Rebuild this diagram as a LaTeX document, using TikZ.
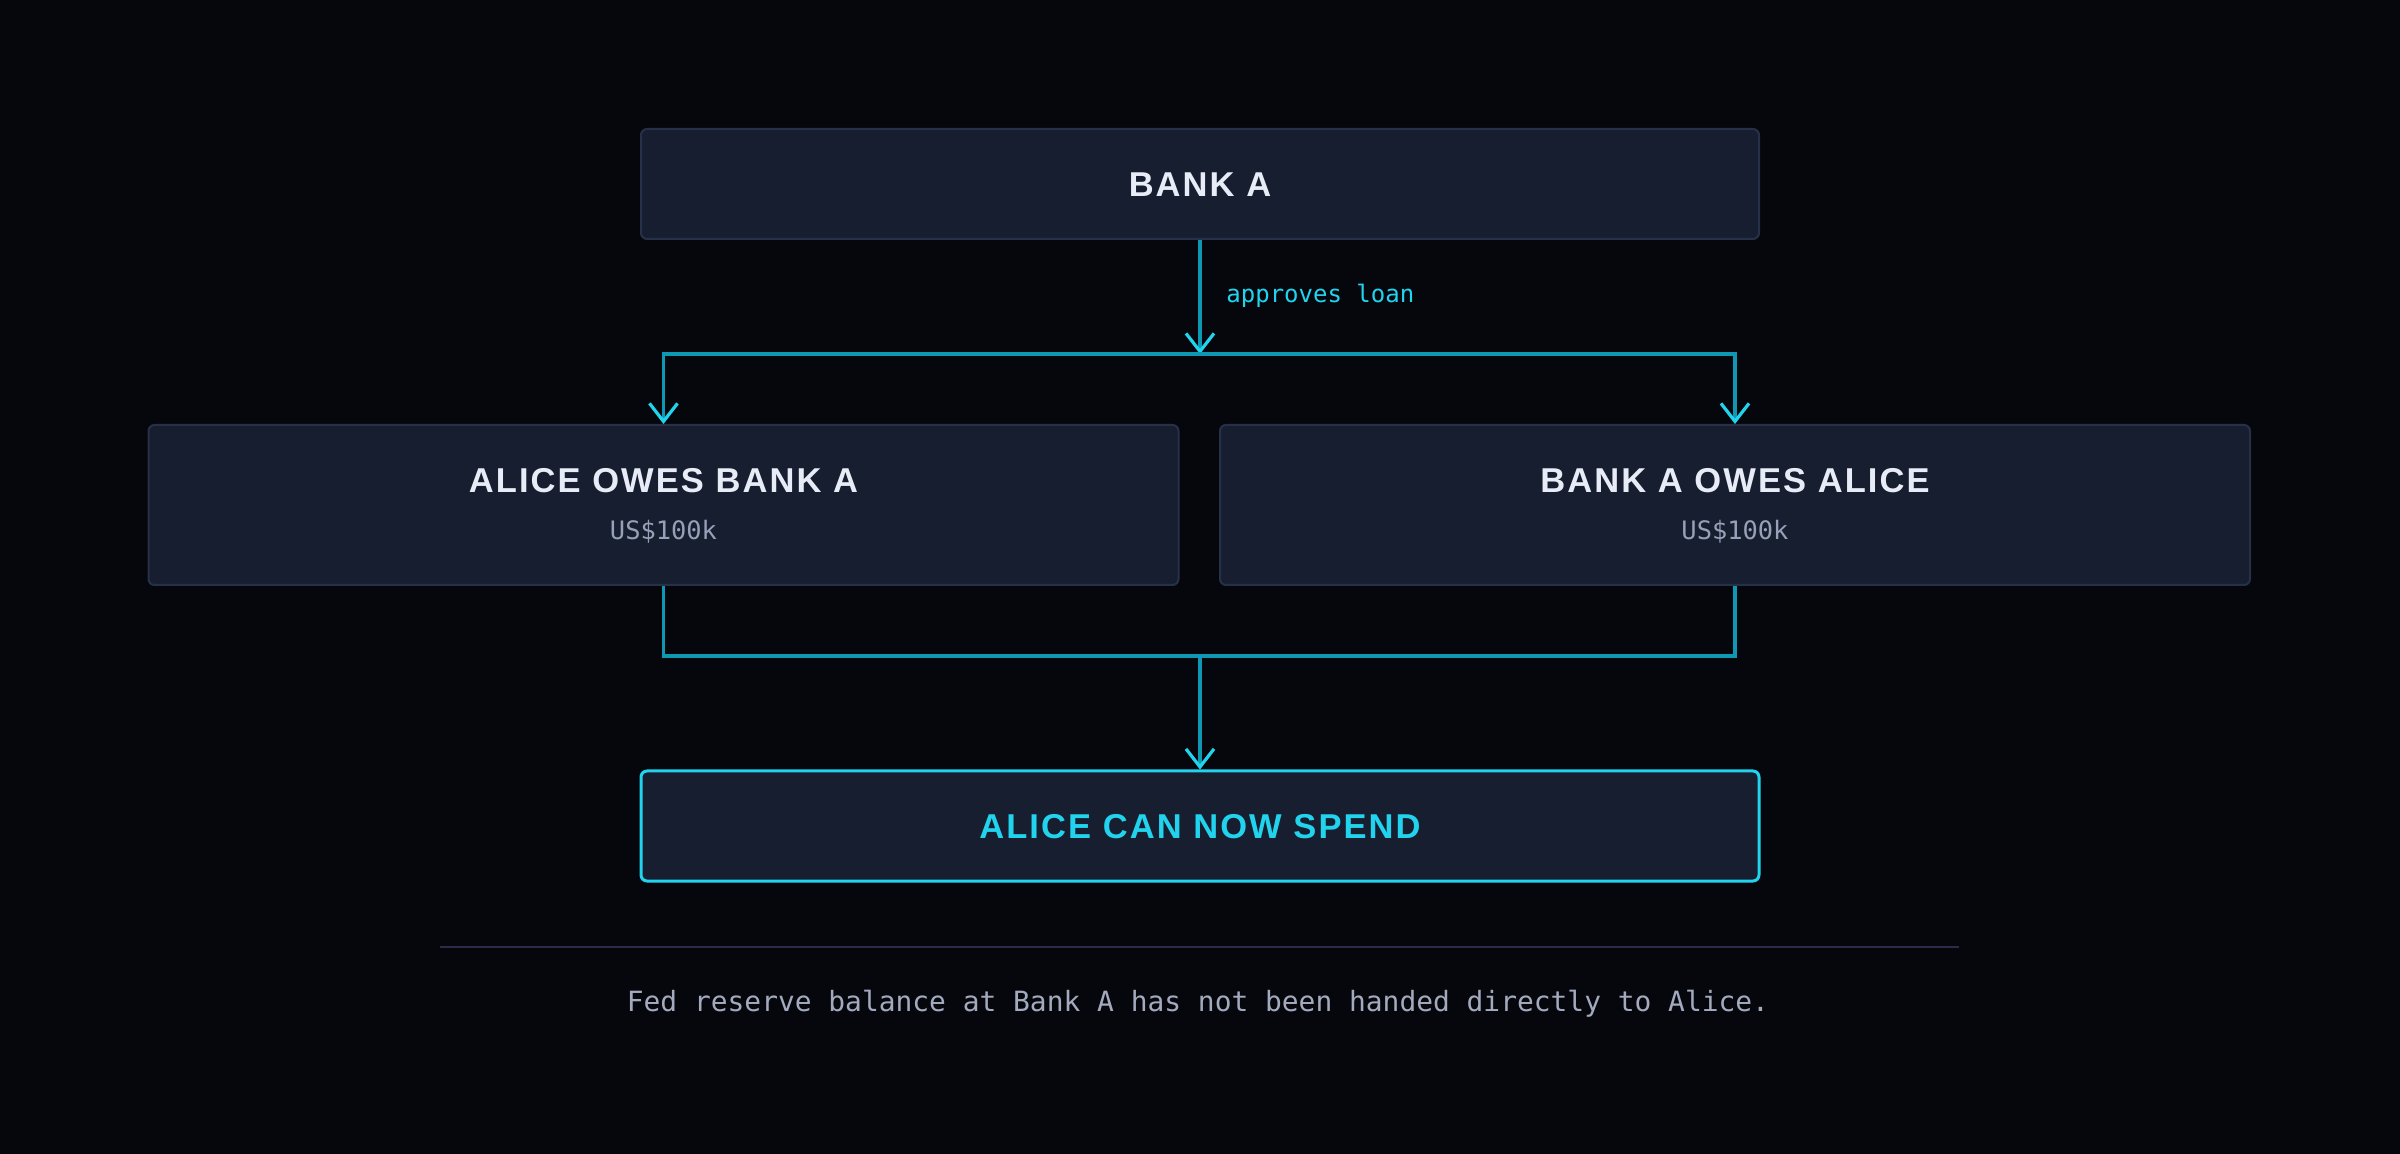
\documentclass[tikz,border=0pt]{standalone}
\usepackage{fontspec}
\setmainfont{Liberation Sans}
\newfontfamily\titlefont[LetterSpace=6]{Liberation Sans}
\newfontfamily\codefont{DejaVu Sans Mono}
\usetikzlibrary{arrows.meta}
\definecolor{bg}{HTML}{05070C}
\definecolor{boxfill}{HTML}{161E30}
\definecolor{boxline}{HTML}{263148}
\definecolor{wirec}{HTML}{0E98B4}
\definecolor{tipc}{HTML}{22D3EE}
\definecolor{titlec}{HTML}{E8ECF6}
\definecolor{subc}{HTML}{96A0B6}
\definecolor{footc}{HTML}{A3AABD}
\definecolor{rulec}{HTML}{2A2C4A}
\begin{document}
\begin{tikzpicture}[x=0.5pt,y=-0.5pt,
  box/.style={draw=boxline, fill=boxfill, line width=1pt, rounded corners=3pt, inner sep=0pt},
  accentbox/.style={box, draw=tipc, line width=1.5pt},
  wire/.style={draw=wirec, line width=1.8pt},
  tipped/.style={-{Straight Barb[color=tipc, length=9pt, width=14pt, line width=1.6pt]}},
  titletext/.style={font=\titlefont\bfseries\fontsize{17.25pt}{20pt}\selectfont, text=titlec, inner sep=0pt, anchor=base},
  subtext/.style={font=\codefont\fontsize{12.7pt}{15pt}\selectfont, text=subc, inner sep=0pt, anchor=base},
  edgelabel/.style={font=\codefont\fontsize{12pt}{14pt}\selectfont, text=tipc, inner sep=0pt, anchor=base west},
  foottext/.style={font=\codefont\fontsize{13.95pt}{16pt}\selectfont, text=footc, inner sep=0pt, anchor=base}]
\fill[bg] (0,0) rectangle (2400,1154);
\useasboundingbox (0,0) rectangle (2400,1154);

% boxes
\node[box, minimum width=559pt, minimum height=55pt] (bankA) at (1200,184) {};
\node[box, minimum width=515pt, minimum height=80pt] (aliceOwes) at (663.5,505) {};
\node[box, minimum width=515pt, minimum height=80pt] (bankOwes) at (1735,505) {};
\node[accentbox, minimum width=559pt, minimum height=55pt] (spend) at (1200,826) {};

% texts
\node[titletext] (bankAT) at (1200,196.5) {BANK A};
\node[titletext] (aliceOwesT) at (663.5,492.5) {ALICE OWES BANK A};
\node[subtext] (aliceOwesS) at (663.5,540) {US\$100k};
\node[titletext] (bankOwesT) at (1735,492.5) {BANK A OWES ALICE};
\node[subtext] (bankOwesS) at (1735,540) {US\$100k};
\node[titletext, text=tipc] (spendT) at (1200,838.5) {ALICE CAN NOW SPEND};

% connectors
\coordinate (split) at (1200,354);
\coordinate (merge) at (1200,656);
\draw[wire, tipped] (bankA.south) -- (split);
\node[edgelabel] (loanL) at (1226,303) {approves loan};
\draw[wire, tipped] (split) -| (aliceOwes.north);
\draw[wire, tipped] (split) -| (bankOwes.north);
\draw[wire] (aliceOwes.south) |- (merge);
\draw[wire] (bankOwes.south) |- (merge);
\draw[wire, tipped] (merge) -- (spend.north);

% separator and footer
\coordinate (ruleL) at (440,947);
\coordinate (ruleR) at (1959,947);
\draw[rulec, line width=1pt] (ruleL) -- (ruleR);
\node[foottext] (foot) at (1198,1011.5) {Fed reserve balance at Bank A has not been handed directly to Alice.};
\end{tikzpicture}
\end{document}
